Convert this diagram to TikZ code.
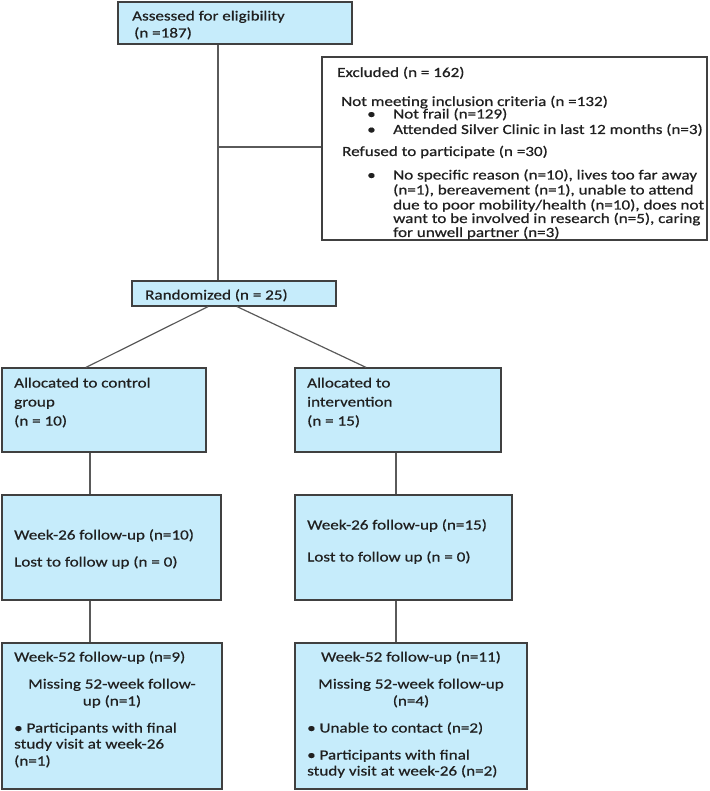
\documentclass[tikz,border=0pt]{standalone}
\usepackage{fontspec}
\setmainfont{Carlito}[FakeStretch=1.22,FakeBold=0.6]
\usetikzlibrary{fit}
\definecolor{boxfill}{RGB}{198,236,251}
\definecolor{boxdraw}{RGB}{64,64,64}
\definecolor{linecol}{RGB}{90,90,90}
\definecolor{txtcol}{RGB}{32,32,32}
\tikzset{
 box/.style={draw=boxdraw, line width=1.2pt, fill=boxfill, inner sep=0pt},
 exbox/.style={draw=boxdraw, line width=1.2pt, fill=white, inner sep=0pt},
 conn/.style={draw=linecol, line width=1.2pt},
 lbl/.style={inner sep=0pt, anchor=base west, text=txtcol, font=\fontsize{14}{15}\selectfont},
 clbl/.style={lbl, anchor=base},
}
\begin{document}
\begin{tikzpicture}[x=1pt,y=-1pt]
\useasboundingbox (0,0) rectangle (709,791);
% boxes
\node[box, fit={(118,2) (352,44)}] (assess) {};
\node[exbox, fit={(322,57) (707,240)}] (excl) {};
\node[box, fit={(132,281) (336,306)}] (rand) {};
\node[box, fit={(2,368) (206,452)}] (ctrl) {};
\node[box, fit={(295,368) (501,452)}] (intv) {};
\node[box, fit={(2,495) (221,600)}] (cw26) {};
\node[box, fit={(295,495) (512,600)}] (iw26) {};
\node[box, fit={(2,643) (222,789)}] (cw52) {};
\node[box, fit={(295,643) (527,789)}] (iw52) {};
% connector anchors
\coordinate (junc) at (218,147);
\coordinate (rl) at (208,0);
\coordinate (rr) at (237,0);
\coordinate (dl) at (86,0);
\coordinate (dr) at (366,0);
\coordinate (cx) at (90,0);
\coordinate (ix) at (396,0);
% connectors
\draw[conn] (junc |- assess.south) -- (junc |- rand.north);
\draw[conn] (junc) -- (junc -| excl.west);
\draw[conn] (rl |- rand.south) -- (dl |- ctrl.north);
\draw[conn] (rr |- rand.south) -- (dr |- intv.north);
\draw[conn] (cx |- ctrl.south) -- (cx |- cw26.north);
\draw[conn] (ix |- intv.south) -- (ix |- iw26.north);
\draw[conn] (cx |- cw26.south) -- (cx |- cw52.north);
\draw[conn] (ix |- iw26.south) -- (ix |- iw52.north);
% texts
\node[lbl] (a1) at (132,20.5) {Assessed for eligibility};
\node[lbl] (a2) at (134,37.5) {(n =187)};
\node[lbl] (e1) at (337,77) {Excluded (n = 162)};
\node[lbl] (e2) at (341,106) {Not meeting inclusion criteria (n =132)};
\node[lbl] (e3b) at (367,118.5) {•};
\node[lbl] (e3) at (393,118.5) {Not frail (n=129)};
\node[lbl] (e4b) at (367,134) {•};
\node[lbl] (e4) at (393,134) {Attended Silver Clinic in last 12 months (n=3)};
\node[lbl] (e5) at (342,156) {Refused to participate (n =30)};
\node[lbl] (e6b) at (367,179.5) {•};
\node[lbl] (e6) at (393,179.5) {No specific reason (n=10), lives too far away};
\node[lbl] (e7) at (393,194.5) {(n=1), bereavement (n=1), unable to attend};
\node[lbl] (e8) at (393,209.5) {due to poor mobility/health (n=10), does not};
\node[lbl] (e9) at (393,223) {want to be involved in research (n=5), caring};
\node[lbl] (e10) at (393,237) {for unwell partner (n=3)};
\node[lbl] (r1) at (145,299.5) {Randomized (n = 25)};
\node[lbl] (c1) at (14,387.5) {Allocated to control};
\node[lbl] (c2) at (14,406.5) {group};
\node[lbl] (c3) at (14,425.5) {(n = 10)};
\node[lbl] (i1) at (307,387.5) {Allocated to};
\node[lbl] (i2) at (307,406.5) {intervention};
\node[lbl] (i3) at (307,425.5) {(n = 15)};
\node[lbl] (cw1) at (14,539.5) {Week-26 follow-up (n=10)};
\node[lbl] (cw2) at (14,566.5) {Lost to follow up (n = 0)};
\node[lbl] (iw1) at (307,529.5) {Week-26 follow-up (n=15)};
\node[lbl] (iw2) at (307,561.5) {Lost to follow up (n = 0)};
\node[lbl] (cf1) at (14,661.5) {Week-52 follow-up (n=9)};
\node[clbl] (cf2) at (112,688.5) {Missing 52-week follow-};
\node[clbl] (cf3) at (112,705.5) {up (n=1)};
\node[lbl] (cf4) at (14,732.5) {• Participants with final};
\node[lbl] (cf5) at (14,748.5) {study visit at week-26};
\node[lbl] (cf6) at (14,765.5) {(n=1)};
\node[clbl] (if1) at (411,661.5) {Week-52 follow-up (n=11)};
\node[clbl] (if2) at (411,688.5) {Missing 52-week follow-up};
\node[clbl] (if3) at (411,705.5) {(n=4)};
\node[lbl] (if4) at (307,732.5) {• Unable to contact (n=2)};
\node[lbl] (if5) at (307,759.5) {• Participants with final};
\node[lbl] (if6) at (307,775.5) {study visit at week-26 (n=2)};
\end{tikzpicture}
\end{document}
